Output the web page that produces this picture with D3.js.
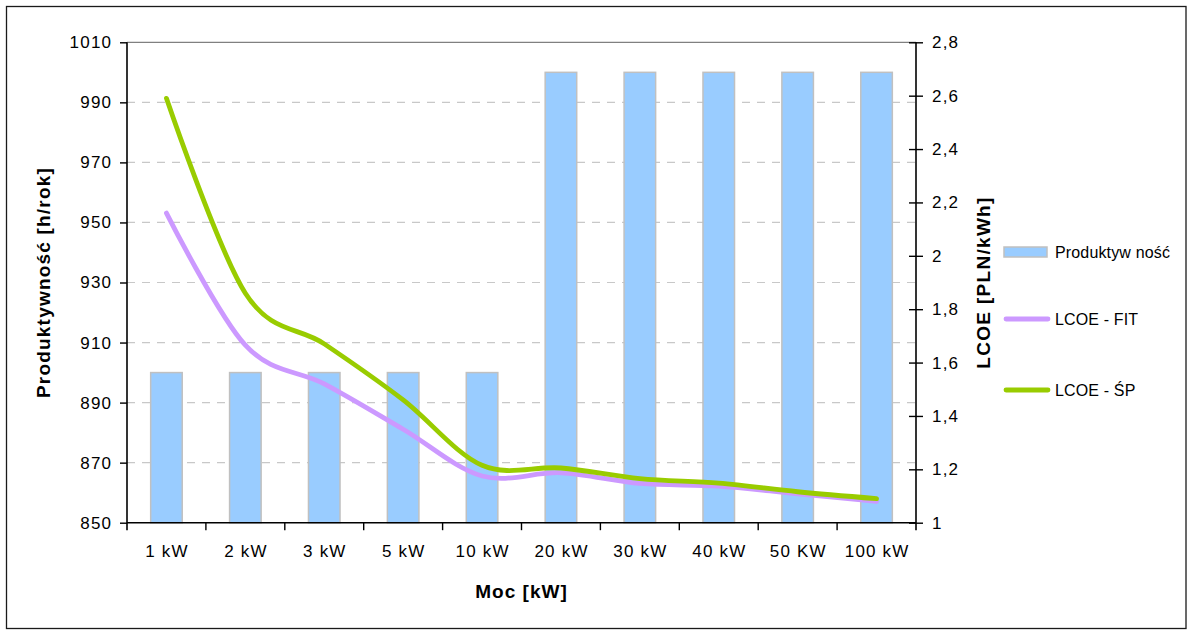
<!DOCTYPE html>
<html>
<head>
<meta charset="utf-8">
<script src="https://cdn.jsdelivr.net/npm/d3@7"></script>
<style>
  html, body { margin: 0; padding: 0; background: #fff; }
  svg { display: block; font-family: "Liberation Sans", Arial, sans-serif; }
</style>
</head>
<body>
<svg id="chart" width="1192" height="630"></svg>
<script>
// Installed power categories
const categories = ["1 kW", "2 kW", "3 kW", "5 kW", "10 kW", "20 kW", "30 kW", "40 kW", "50 KW", "100 kW"];
// Productivity [h/rok] (left axis, bars)
const productivity = [900, 900, 900, 900, 900, 1000, 1000, 1000, 1000, 1000];
// LCOE [PLN/kWh] (right axis, lines)
const lcoeFit = [2.16, 1.665, 1.52, 1.35, 1.175, 1.187, 1.147, 1.137, 1.108, 1.08];
const lcoeSp  = [2.59, 1.86, 1.67, 1.46, 1.215, 1.205, 1.165, 1.148, 1.116, 1.09];
// Axis ticks
const leftTicks  = [850, 870, 890, 910, 930, 950, 970, 990, 1010];
const rightTicks = [1, 1.2, 1.4, 1.6, 1.8, 2, 2.2, 2.4, 2.6, 2.8];
// Legend labels
const legendLabels = ["Produktyw ność", "LCOE - FIT", "LCOE - ŚP"];

const COL_BAR = "#99ccff", COL_BAR_EDGE = "#c0c0c0";
const COL_FIT = "#cc99ff", COL_SP = "#99cc00";

const svg = d3.select("#chart");
const plot = { left: 127, right: 916, top: 42.3, bottom: 522.7 };

// Outer frame
svg.append("rect")
  .attr("x", 6.5).attr("y", 6.5).attr("width", 1179.5).attr("height", 622)
  .attr("fill", "#fff").attr("stroke", "#1a1a1a").attr("stroke-width", 1.3);

const x = d3.scaleBand().domain(categories)
  .range([plot.left, plot.right]).paddingInner(0.6).paddingOuter(0.3);
const xPoint = d3.scaleBand().domain(categories).range([plot.left, plot.right]);
const yL = d3.scaleLinear().domain([850, 1010]).range([plot.bottom, plot.top]);
const yR = d3.scaleLinear().domain([1, 2.8]).range([plot.bottom, plot.top]);

// Gridlines
svg.append("g").selectAll("line")
  .data(leftTicks.filter(v => v > 850 && v < 1010))
  .join("line")
  .attr("x1", plot.left).attr("x2", plot.right)
  .attr("y1", d => yL(d)).attr("y2", d => yL(d))
  .attr("stroke", "#c8c8c8").attr("stroke-width", 1.2)
  .attr("stroke-dasharray", "8,7");
svg.append("line")
  .attr("x1", plot.left).attr("x2", plot.right)
  .attr("y1", yL(1010)).attr("y2", yL(1010))
  .attr("stroke", "#808080").attr("stroke-width", 1.3);

// Bars
svg.append("g").selectAll("rect")
  .data(productivity)
  .join("rect")
  .attr("x", (d, i) => x(categories[i]))
  .attr("width", x.bandwidth())
  .attr("y", d => yL(d))
  .attr("height", d => yL(850) - yL(d))
  .attr("fill", COL_BAR).attr("stroke", COL_BAR_EDGE).attr("stroke-width", 1.5);

// Lines
const line = d3.line()
  .x((d, i) => xPoint(categories[i]) + xPoint.bandwidth() / 2)
  .y(d => yR(d))
  .curve(d3.curveCatmullRom.alpha(0));
[[lcoeFit, COL_FIT], [lcoeSp, COL_SP]].forEach(([vals, col]) => {
  svg.append("path").datum(vals)
    .attr("d", line)
    .attr("fill", "none").attr("stroke", col).attr("stroke-width", 4.8)
    .attr("stroke-linecap", "round").attr("stroke-linejoin", "round");
});

const tickFont = g => g.selectAll("text")
  .attr("font-size", 17).attr("letter-spacing", "1.2px")
  .attr("fill", "#000").attr("font-family", "'Liberation Sans', Arial, sans-serif");

// Left axis
const axL = svg.append("g").attr("transform", `translate(${plot.left},0)`)
  .call(d3.axisLeft(yL).tickValues(leftTicks).tickSize(7).tickPadding(9).tickFormat(d3.format("d")));
axL.select(".domain").attr("stroke", "#000").attr("stroke-width", 1.6)
  .attr("d", `M0,${plot.top}V${plot.bottom + 7.5}`);
axL.selectAll(".tick line").attr("stroke", "#000").attr("stroke-width", 1.4);
axL.call(tickFont);
axL.selectAll("text").attr("dx", "1.2px");

// Right axis
const fmtR = v => String(Math.round(v * 10) / 10).replace(".", ",");
const axR = svg.append("g").attr("transform", `translate(${plot.right},0)`)
  .call(d3.axisRight(yR).tickValues(rightTicks).tickSize(7).tickPadding(9).tickFormat(fmtR));
axR.select(".domain").attr("stroke", "#000").attr("stroke-width", 1.6)
  .attr("d", `M0,${plot.top}V${plot.bottom + 7.5}`);
axR.selectAll(".tick line").attr("x1", -7).attr("stroke", "#000").attr("stroke-width", 1.4);
axR.call(tickFont);

// Bottom axis: labels centred in bands, ticks on band boundaries
const axB = svg.append("g").attr("transform", `translate(0,${plot.bottom})`)
  .call(d3.axisBottom(xPoint).tickSize(0).tickPadding(22));
axB.select(".domain").attr("stroke", "#000").attr("stroke-width", 1.6)
  .attr("d", `M${plot.left},0H${plot.right}`);
axB.call(tickFont);
axB.selectAll("text").attr("dx", "0.6px");
axB.append("g").selectAll("line")
  .data(categories.slice(1))
  .join("line")
  .attr("x1", d => xPoint(d)).attr("x2", d => xPoint(d))
  .attr("y1", 0).attr("y2", 7.5)
  .attr("stroke", "#000").attr("stroke-width", 1.4);

// Axis titles
svg.append("text")
  .attr("transform", `translate(50,${(plot.top + plot.bottom) / 2}) rotate(-90)`)
  .attr("text-anchor", "middle").attr("font-size", 19).attr("font-weight", "bold")
  .attr("letter-spacing", "1.2px").text("Produktywność [h/rok]");
svg.append("text")
  .attr("transform", `translate(990,${(plot.top + plot.bottom) / 2}) rotate(-90)`)
  .attr("text-anchor", "middle").attr("font-size", 19).attr("font-weight", "bold")
  .attr("letter-spacing", "1.3px").text("LCOE [PLN/kWh]");
svg.append("text")
  .attr("x", (plot.left + plot.right) / 2).attr("y", 598)
  .attr("text-anchor", "middle").attr("font-size", 19).attr("font-weight", "bold")
  .attr("letter-spacing", "1px").text("Moc [kW]");

// Legend
const legendY = [252, 319, 390];
const lg = svg.append("g");
legendLabels.forEach((lab, i) => {
  const yy = legendY[i];
  if (i === 0) {
    lg.append("rect").attr("x", 1004).attr("y", yy - 5).attr("width", 43).attr("height", 10)
      .attr("fill", COL_BAR).attr("stroke", COL_BAR_EDGE).attr("stroke-width", 1.5);
  } else {
    lg.append("line").attr("x1", 1006).attr("x2", 1048).attr("y1", yy).attr("y2", yy)
      .attr("stroke", i === 1 ? COL_FIT : COL_SP).attr("stroke-width", 4.8)
      .attr("stroke-linecap", "round");
  }
  lg.append("text").attr("x", 1055).attr("y", yy + 6)
    .attr("font-size", 16).attr("letter-spacing", "0.15px").attr("fill", "#000")
    .text(lab);
});
</script>
</body>
</html>
